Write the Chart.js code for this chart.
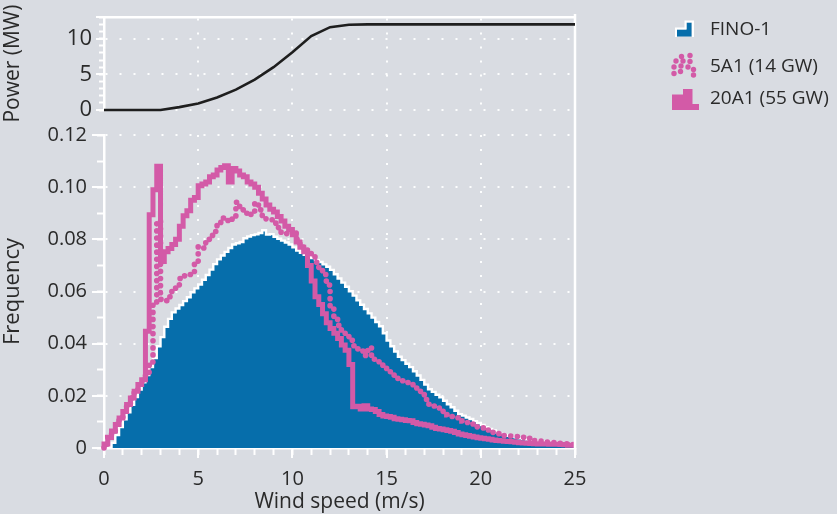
<!DOCTYPE html>
<html><head><meta charset="utf-8">
<script src="https://cdn.jsdelivr.net/npm/chart.js@4.4.0/dist/chart.umd.min.js"></script>
<style>
html,body{margin:0;padding:0;background:#d9dce2;}
#wrap{position:relative;width:837px;height:514px;overflow:hidden;background:#d9dce2;}
canvas{position:absolute;left:0;top:0;}
</style></head><body>
<div id="wrap"><canvas id="bottom" width="837" height="514" style="width:837px;height:514px"></canvas><canvas id="top" width="837" height="514" style="width:837px;height:514px"></canvas></div>
<script>
// ---------- data ----------
const binWidth = 0.2; // m/s
const fino1 = [
0, 0.0005, 0.002, 0.005, 0.008, 0.011, 0.0137, 0.0166, 0.0195, 0.0224,
0.0252, 0.028, 0.031, 0.0345, 0.039, 0.0425, 0.0465, 0.0495, 0.052, 0.0535,
0.0548, 0.0563, 0.0578, 0.0597, 0.0612, 0.0627, 0.0645, 0.0663, 0.0684, 0.0705,
0.0723, 0.0738, 0.0752, 0.0767, 0.078, 0.0785, 0.079, 0.0804, 0.0811, 0.0816,
0.0819, 0.0824, 0.0835, 0.0818, 0.082, 0.081, 0.0802, 0.0795, 0.0788, 0.078,
0.0769, 0.0757, 0.0748, 0.0741, 0.0735, 0.0728, 0.072, 0.0713, 0.0704, 0.0695,
0.0683, 0.0666, 0.065, 0.0634, 0.0618, 0.0601, 0.0584, 0.0566, 0.0549, 0.0533,
0.0516, 0.05, 0.0483, 0.0467, 0.044, 0.0412, 0.039, 0.037, 0.035, 0.0337,
0.0323, 0.031, 0.0294, 0.0278, 0.0261, 0.0243, 0.0225, 0.0215, 0.0204, 0.0194,
0.0181, 0.0168, 0.0156, 0.0143, 0.013, 0.0124, 0.0117, 0.0111, 0.0103, 0.0096,
0.0088, 0.008, 0.0073, 0.0067, 0.006, 0.0054, 0.005, 0.0047, 0.0044, 0.0041,
0.0037, 0.0034, 0.0032, 0.003, 0.0029, 0.0027, 0.0025, 0.0024, 0.0023, 0.0021,
0.0019, 0.0018, 0.0017, 0.0016, 0.0015
];
const scen5A1 = [
0.0015, 0.004, 0.0065, 0.009, 0.0115, 0.014, 0.0167, 0.0192, 0.0218, 0.0243,
0.026, 0.029, 0.033, 0.055, 0.087, 0.057, 0.0565, 0.058, 0.0605, 0.0625,
0.065, 0.066, 0.0665, 0.0675, 0.0715, 0.0772, 0.0767, 0.080, 0.0815, 0.083,
0.086, 0.0882, 0.0872, 0.0869, 0.0882, 0.0942, 0.0913, 0.090, 0.0892, 0.0907,
0.094, 0.0913, 0.0882, 0.0878, 0.0875, 0.0862, 0.0845, 0.0826, 0.0822, 0.0826,
0.0832, 0.080, 0.077, 0.076, 0.075, 0.0742, 0.0712, 0.069, 0.0665, 0.0625,
0.0538, 0.0505, 0.047, 0.0445, 0.043, 0.0413, 0.0392, 0.038, 0.0372, 0.0355,
0.0385, 0.034, 0.0333, 0.0328, 0.0308, 0.030, 0.0285, 0.0275, 0.0265, 0.0258,
0.0251, 0.0245, 0.0232, 0.0219, 0.0205, 0.0186, 0.0168, 0.0161, 0.0155, 0.0149,
0.0139, 0.0128, 0.0121, 0.0116, 0.0111, 0.0104, 0.0098, 0.0092, 0.0087, 0.0081,
0.0077, 0.0071, 0.0066, 0.006, 0.0055, 0.005, 0.0048, 0.0046, 0.0045, 0.0044,
0.0042, 0.0041, 0.0037, 0.0033, 0.0029, 0.0027, 0.0025, 0.0023, 0.0022, 0.0021,
0.002, 0.0018, 0.0016, 0.0014, 0.0013
];
const scen20A1 = [
0.0015, 0.004, 0.0065, 0.009, 0.0115, 0.014, 0.0167, 0.0192, 0.0218, 0.0243,
0.0262, 0.0448, 0.0894, 0.099, 0.108, 0.0715, 0.0752, 0.0765, 0.078, 0.080,
0.085, 0.089, 0.091, 0.095, 0.096, 0.1005, 0.1012, 0.102, 0.104, 0.1047,
0.1066, 0.1075, 0.1082, 0.102, 0.1072, 0.1062, 0.1047, 0.104, 0.102, 0.1012,
0.100, 0.0977, 0.0955, 0.0932, 0.0915, 0.0905, 0.0888, 0.087, 0.085, 0.0838,
0.0818, 0.079, 0.077, 0.0752, 0.070, 0.064, 0.058, 0.055, 0.0515, 0.048,
0.0458, 0.044, 0.042, 0.0395, 0.0375, 0.032, 0.0158, 0.016, 0.015, 0.0162,
0.015, 0.0148, 0.014, 0.0128, 0.0123, 0.0121, 0.0118, 0.0112, 0.011, 0.0108,
0.0105, 0.0104, 0.0098, 0.0093, 0.0091, 0.0088, 0.0085, 0.008, 0.0075, 0.0073,
0.007, 0.0067, 0.0064, 0.0059, 0.0054, 0.0051, 0.0048, 0.0045, 0.0042, 0.0039,
0.0037, 0.0035, 0.0034, 0.0031, 0.0029, 0.0028, 0.0026, 0.0025, 0.0024, 0.0022,
0.002, 0.0019, 0.0018, 0.0017, 0.0016, 0.0015, 0.0015, 0.0015, 0.0014, 0.0014,
0.0014, 0.0013, 0.0012, 0.0011, 0.0011
];
const powerSpeed = [0,1,2,3,4,5,6,7,8,9,10,11,12,13,14,15,16,17,18,19,20,21,22,23,24,25];
const powerMW    = [0,0,0,0,0.4,0.9,1.75,2.85,4.25,6.0,8.1,10.35,11.6,11.95,12,12,12,12,12,12,12,12,12,12,12,12];
const legendLabels = ['FINO-1', '5A1 (14 GW)', '20A1 (55 GW)'];
const xMax = 25;

// ---------- styles ----------
const BLUE = '#066eab', PINK = '#d35aa7', TXT = '#2a2a2a', GRID = 'rgba(255,255,255,0.95)', NONE = 'rgba(0,0,0,0)';
const FAM = "'Open Sans', 'Noto Sans', sans-serif";
Chart.defaults.font.family = FAM;
Chart.defaults.font.size = 20;
Chart.defaults.color = TXT;

const binStarts = fino1.map((_, i) => Math.round(i * binWidth * 10) / 10);
function histPoints(vals) {
  const pts = [{x: 0, y: 0}];
  vals.forEach((v, i) => pts.push({x: binStarts[i], y: v}));
  pts.push({x: xMax, y: vals[vals.length - 1]});
  return pts;
}
function minorAxis(axis, position, min, max, step, len) {
  return { type: 'linear', axis, position, min, max, weight: 0,
    afterFit: s => { if (axis === 'x') s.height = 0; else s.width = 0; },
    ticks: { display: false, stepSize: step, autoSkip: false },
    grid: { drawOnChartArea: false, drawTicks: true, tickLength: len, tickColor: '#fff', tickWidth: 2 },
    border: { display: false } };
}

const legendPlugin = {
  id: 'sideLegend',
  afterDraw(chart) {
    const ctx = chart.ctx;
    ctx.save();
    // FINO-1 icon
    ctx.fillStyle = BLUE;
    ctx.beginPath();
    ctx.moveTo(677, 36.5); ctx.lineTo(677, 29.5); ctx.lineTo(686.5, 29.5); ctx.lineTo(686.5, 22.5);
    ctx.lineTo(691.5, 22.5); ctx.lineTo(691.5, 36.5); ctx.closePath(); ctx.fill();
    ctx.strokeStyle = '#fff'; ctx.lineWidth = 2;
    ctx.beginPath();
    ctx.moveTo(676, 37); ctx.lineTo(676, 28.5); ctx.lineTo(685.5, 28.5); ctx.lineTo(685.5, 21.5);
    ctx.lineTo(693, 21.5); ctx.lineTo(693, 37); ctx.stroke();
    // 5A1 icon (dots)
    ctx.fillStyle = PINK;
    [[690,55.5],[681.5,56.5],[676,61],[683,61],[690,61.5],[674,67],[681,66],[688,67],[693.5,69.5],[674,73.5],[680.5,71.5],[693.5,75]].forEach(p => {
      ctx.beginPath(); ctx.arc(p[0], p[1], 2.7, 0, Math.PI * 2); ctx.fill();
    });
    // 20A1 icon
    ctx.beginPath();
    ctx.moveTo(672, 110); ctx.lineTo(672, 94.5); ctx.lineTo(683, 94.5); ctx.lineTo(683, 89);
    ctx.lineTo(692.5, 89); ctx.lineTo(692.5, 104); ctx.lineTo(699, 104); ctx.lineTo(699, 110);
    ctx.closePath(); ctx.fill();
    // texts
    ctx.fillStyle = TXT;
    ctx.font = "19px " + FAM;
    ctx.textBaseline = 'middle';
    ctx.textAlign = 'left';
    const ys = [30, 66.5, 99];
    legendLabels.forEach((t, i) => ctx.fillText(t, 710, ys[i]));
    ctx.restore();
  }
};

const framePlugin = {
  id: 'frame',
  afterDraw(chart) {
    const {ctx, chartArea} = chart;
    ctx.save();
    ctx.strokeStyle = '#fff'; ctx.lineWidth = 2.5;
    ctx.beginPath(); ctx.moveTo(chartArea.right, 14); ctx.lineTo(chartArea.right, chartArea.bottom + 1); ctx.stroke();
    ctx.restore();
  }
};

// ---------- top chart: power curve ----------
new Chart(document.getElementById('top'), {
  type: 'line',
  data: { datasets: [{
    label: 'Power', data: powerSpeed.map((s, i) => ({x: s, y: powerMW[i]})), xAxisID: 'x', yAxisID: 'y',
    borderColor: '#1e1e1e', borderWidth: 2.6, pointRadius: 0, tension: 0, clip: false
  }]},
  options: {
    responsive: false, animation: false, events: [],
    layout: { padding: { left: 0, right: 262, top: 15, bottom: 404 } },
    plugins: { legend: { display: false }, tooltip: { enabled: false } },
    scales: {
      x: { type: 'linear', position: 'top', min: 0, max: xMax,
        afterFit: s => { s.height = 0; },
        ticks: { display: false, stepSize: 5 },
        grid: { drawTicks: false, lineWidth: 2,
          color: c => (c.tick && c.tick.value > 0 && c.tick.value < xMax) ? GRID : NONE },
        border: { display: true, color: '#fff', width: 2.5, dash: [2, 12] } },
      y: { type: 'linear', min: 0, max: 13, weight: 1,
        afterFit: s => { s.width = 104; },
        ticks: { stepSize: 5, autoSkip: false, padding: 4, font: { size: 22 },
          callback: v => (v % 5 === 0 ? String(v) : '') },
        grid: { tickLength: 8, tickColor: '#fff', tickWidth: 2, lineWidth: 2,
          color: c => (c.tick && c.tick.value % 5 === 0) ? GRID : NONE },
        border: { display: true, color: '#fff', width: 2.5, dash: [2, 12] },
        title: { display: true, text: 'Power (MW)', font: { size: 21 }, padding: { top: 0, bottom: 0 } } },
      yMinor: minorAxis('y', 'left', 0, 13, 1, 5)
    }
  },
  plugins: [legendPlugin]
});

// ---------- bottom chart: frequency histograms ----------
new Chart(document.getElementById('bottom'), {
  type: 'line',
  data: { datasets: [
    { label: legendLabels[0], data: histPoints(fino1), xAxisID: 'x', yAxisID: 'y', stepped: true, fill: 'origin',
      backgroundColor: BLUE, borderColor: '#fff', borderWidth: 2.4, pointRadius: 0, order: 3, clip: false },
    { label: legendLabels[1], data: histPoints(scen5A1), xAxisID: 'x', yAxisID: 'y', stepped: true, fill: false,
      borderColor: PINK, borderWidth: 5.6, borderDash: [0.1, 7], borderCapStyle: 'round',
      pointRadius: 0, order: 2, clip: false },
    { label: legendLabels[2], data: histPoints(scen20A1), xAxisID: 'x', yAxisID: 'y', stepped: true, fill: false,
      borderColor: PINK, borderWidth: 5, borderJoinStyle: 'miter', pointRadius: 0, order: 1, clip: false }
  ]},
  options: {
    responsive: false, animation: false, events: [],
    layout: { padding: { left: 0, right: 262, top: 135, bottom: 0 } },
    plugins: { legend: { display: false }, tooltip: { enabled: false } },
    scales: {
      x: { type: 'linear', position: 'bottom', min: 0, max: xMax, weight: 1,
        afterFit: s => { s.height = 66; },
        ticks: { stepSize: 5, autoSkip: false, maxRotation: 0, padding: 9 },
        grid: { tickLength: 10, tickColor: '#fff', tickWidth: 2, lineWidth: 2,
          color: c => (c.tick && c.tick.value > 0 && c.tick.value < xMax) ? GRID : NONE },
        border: { display: true, color: '#fff', width: 2.5, dash: [2, 12] },
        title: { display: true, text: 'Wind speed (m/s)', font: { size: 21 }, padding: { top: 0, bottom: -1 } } },
      xMinor: minorAxis('x', 'bottom', 0, xMax, 1, 7),
      y: { type: 'linear', min: 0, max: 0.12, weight: 1,
        afterFit: s => { s.width = 104; },
        ticks: { stepSize: 0.02, autoSkip: false, padding: 5,
          callback: v => { const h = Math.round(v * 100); return h === 0 ? '0' : (h / 100).toFixed(2); } },
        grid: { tickLength: 12, tickColor: '#fff', tickWidth: 2, lineWidth: 2,
          color: c => (c.tick && c.tick.value > 0.001) ? GRID : NONE },
        border: { display: true, color: '#fff', width: 2.5, dash: [2, 12] },
        title: { display: true, text: 'Frequency', font: { size: 22 }, padding: { top: 0, bottom: 0 } } },
      yMinor: minorAxis('y', 'left', 0, 0.12, 0.01, 7)
    }
  },
  plugins: [framePlugin]
});
</script>
</body></html>
